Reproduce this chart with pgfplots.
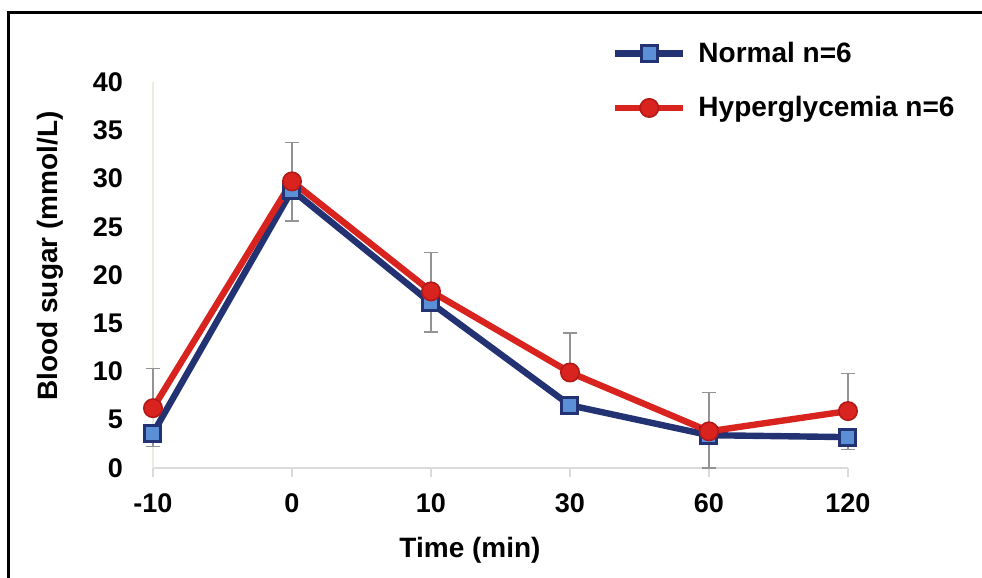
\documentclass[border=0pt]{standalone}
\usepackage{pgfplots}
\pgfplotsset{compat=1.18}
\usepackage{fontspec}
\setmainfont{Liberation Sans}
\definecolor{navy}{HTML}{233272}
\definecolor{sqfill}{HTML}{5B8FD6}
\definecolor{redl}{HTML}{D8231F}
\definecolor{redd}{HTML}{B31A17}
\definecolor{errg}{HTML}{939393}
\definecolor{xax}{HTML}{DADADA}
\definecolor{yax}{HTML}{ECEBDF}
\begin{document}
\begin{tikzpicture}
\useasboundingbox (0,0) rectangle (491pt,-289pt);
\draw[line width=1.5pt] (4pt,-289pt) -- (4pt,-6pt) -- (491pt,-6pt);
\begin{axis}[
  at={(76.5pt,-234pt)}, anchor=south west,
  scale only axis, width=347.5pt, height=193pt,
  xmin=0, xmax=5, ymin=0, ymax=40,
  clip=false,
  axis lines*=left,
  x axis line style={draw=xax, line width=0.8pt},
  y axis line style={draw=yax, line width=0.8pt},
  xtick={0,1,2,3,4,5},
  xticklabels={-10,0,10,30,60,120},
  ytick={0,5,...,40},
  tick align=outside,
  major tick length=4.5pt,
  xtick style={draw=xax, line width=0.8pt},
  ytick style={draw=none},
  /pgf/number format/assume math mode=true,
  tick label style={font=\fontsize{13.5}{15}\selectfont\bfseries},
  yticklabel style={xshift=-7pt},
  xticklabel style={yshift=-5pt},
  legend style={at={(0.66,1.115)}, anchor=north west, draw=none, fill=none,
    font=\fontsize{14}{17}\selectfont\bfseries, row sep=11.5pt, column sep=4pt, inner sep=0pt,
    cells={anchor=west}},
  legend image code/.code={\draw[mark repeat=2,mark phase=2,#1] plot coordinates {(0pt,0pt)(17pt,0pt)(34pt,0pt)};},
]
% error bars (behind lines)
\addplot[forget plot, draw=none, mark=none,
  error bars/.cd, y dir=minus, y explicit, error mark=|,
  error bar style={errg, line width=0.6pt},
  error mark options={errg, line width=0.6pt, mark size=3.5pt}]
  table[x=x, y=y, y error=e] {
x y e
0 3.6 1.4
1 28.8 3.2
2 17.1 3.0
3 6.5 0.8
4 3.4 3.4
5 3.2 1.3
};
\addplot[forget plot, draw=none, mark=none,
  error bars/.cd, y dir=plus, y explicit, error mark=|,
  error bar style={errg, line width=0.6pt},
  error mark options={errg, line width=0.6pt, mark size=3.5pt}]
  table[x=x, y=y, y error=e] {
x y e
0 6.2 4.1
1 29.7 4.0
2 18.3 4.0
3 9.9 4.1
4 3.8 4.0
5 5.9 3.9
};
\addplot[navy, line width=3.2pt, mark=square*, mark size=4pt,
  mark options={fill=sqfill, draw=navy, line width=1.5pt}]
  coordinates {(0,3.6) (1,28.8) (2,17.1) (3,6.5) (4,3.4) (5,3.2)};
\addlegendentry{Normal n=6}
\addplot[redl, line width=3.2pt, mark=*, mark size=4.6pt,
  mark options={fill=redl, draw=redd, line width=0.8pt}]
  coordinates {(0,6.2) (1,29.7) (2,18.3) (3,9.9) (4,3.8) (5,5.9)};
\addlegendentry{Hyperglycemia n=6}
\end{axis}
\node[rotate=90, font=\fontsize{14}{17}\selectfont\bfseries] at (25pt,-128pt) {Blood sugar (mmol/L)};
\node[font=\fontsize{14}{17}\selectfont\bfseries] at (235pt,-275pt) {Time (min)};
\end{tikzpicture}
\end{document}
